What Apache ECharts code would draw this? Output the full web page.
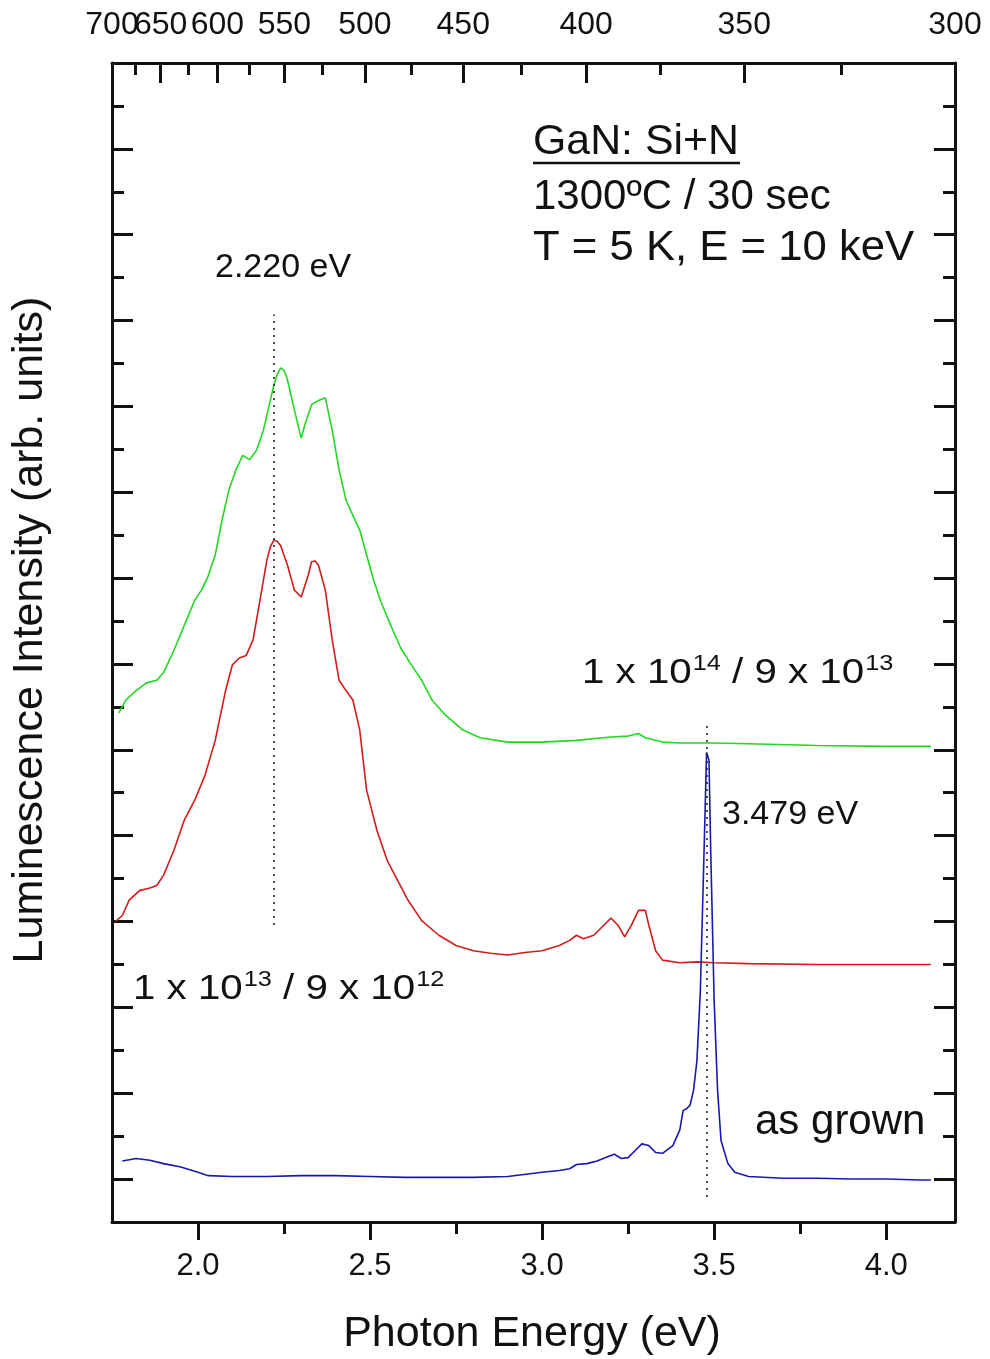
<!DOCTYPE html>
<html>
<head>
<meta charset="utf-8">
<script src="https://cdn.jsdelivr.net/npm/echarts@6/dist/echarts.min.js"></script>
<style>
  html, body { margin: 0; padding: 0; background: #fff; }
  #chart { width: 990px; height: 1359px; }
</style>
</head>
<body>
<div id="chart"></div>
<script>
// Cathodoluminescence spectra of GaN:Si+N after 1300 °C / 30 s anneal (T = 5 K, E = 10 keV)
const FONT = '"Liberation Sans", Arial, sans-serif';

// Tick positions
const energyMajor = [2.0, 2.5, 3.0, 3.5, 4.0];
const energyMinor = [2.25, 2.75, 3.25, 3.75];
const wavelengthMajorA = [700, 600, 500, 400, 300];
const wavelengthMajorB = [650, 550, 450, 350];
const wavelengthMinor = [675, 625, 575, 525, 475, 425, 375, 325];
const intensityMajor = [0, 1, 2, 3, 4, 5, 6, 7, 8, 9, 10, 11, 12, 13];
const intensityMinor = [0.5, 1.5, 2.5, 3.5, 4.5, 5.5, 6.5, 7.5, 8.5, 9.5, 10.5, 11.5, 12.5];

// As-grown sample (blue)
const asGrownEnergy = [1.78, 1.82, 1.86, 1.90, 1.95, 2.00, 2.03, 2.10, 2.20, 2.30, 2.40, 2.50, 2.60, 2.70, 2.80, 2.90,
  3.00, 3.05, 3.08, 3.10, 3.13, 3.16, 3.19, 3.21, 3.23, 3.25, 3.27, 3.29, 3.31, 3.33, 3.35, 3.38, 3.40, 3.41, 3.42,
  3.43, 3.44, 3.45, 3.46, 3.47, 3.478, 3.485, 3.49, 3.50, 3.51, 3.52, 3.54, 3.56, 3.60, 3.70, 3.80, 3.90, 4.00, 4.10, 4.13];
const asGrownIntensity = [0.21, 0.24, 0.22, 0.18, 0.14, 0.08, 0.04, 0.03, 0.03, 0.04, 0.04, 0.03, 0.02, 0.02, 0.02, 0.03,
  0.08, 0.10, 0.12, 0.17, 0.18, 0.21, 0.26, 0.29, 0.24, 0.25, 0.33, 0.41, 0.39, 0.31, 0.30, 0.39, 0.57, 0.80, 0.82,
  0.86, 1.03, 1.38, 2.20, 3.71, 4.97, 4.88, 3.83, 2.08, 1.03, 0.45, 0.18, 0.08, 0.03, 0.01, 0.01, 0.00, 0.00, -0.01, -0.01];

// 1 x 10^13 / 9 x 10^12 implant (red)
const lowDoseEnergy = [1.76, 1.78, 1.80, 1.83, 1.86, 1.88, 1.90, 1.93, 1.96, 1.99,
  2.02, 2.05, 2.08, 2.10, 2.12, 2.14, 2.16, 2.18, 2.20, 2.21, 2.22, 2.23,
  2.24, 2.26, 2.28, 2.30, 2.32, 2.33, 2.34, 2.35, 2.37, 2.39, 2.41,
  2.43, 2.45, 2.47, 2.49, 2.52, 2.55, 2.58, 2.61, 2.65, 2.70,
  2.75, 2.80, 2.85, 2.90, 2.95, 3.00, 3.05, 3.08, 3.10, 3.12,
  3.15, 3.18, 3.20, 3.22, 3.24, 3.26, 3.28, 3.30, 3.31, 3.33,
  3.35, 3.40, 3.45, 3.50, 3.60, 3.80, 4.00, 4.13];
const lowDoseIntensity = [3.00, 3.07, 3.25, 3.36, 3.39, 3.42, 3.54, 3.83, 4.18, 4.41,
  4.70, 5.11, 5.69, 5.99, 6.07, 6.10, 6.28, 6.74, 7.21, 7.36, 7.44, 7.43,
  7.38, 7.15, 6.86, 6.78, 7.03, 7.19, 7.20, 7.15, 6.86, 6.28, 5.81,
  5.69, 5.58, 5.23, 4.53, 4.06, 3.71, 3.48, 3.25, 3.01, 2.84,
  2.72, 2.66, 2.63, 2.61, 2.64, 2.66, 2.72, 2.78, 2.84, 2.80,
  2.84, 2.96, 3.04, 2.96, 2.82, 2.96, 3.13, 3.13, 2.96, 2.66,
  2.55, 2.52, 2.53, 2.52, 2.51, 2.50, 2.50, 2.50];

// 1 x 10^14 / 9 x 10^13 implant (green)
const highDoseEnergy = [1.77, 1.79, 1.82, 1.85, 1.88, 1.90, 1.93, 1.96, 1.99,
  2.01, 2.03, 2.05, 2.07, 2.09, 2.11, 2.13, 2.15, 2.17, 2.19,
  2.21, 2.22, 2.23, 2.24, 2.25, 2.26, 2.28, 2.30, 2.31, 2.33, 2.35, 2.37,
  2.39, 2.41, 2.43, 2.45, 2.47, 2.49, 2.51, 2.53, 2.56, 2.59,
  2.62, 2.65, 2.68, 2.72, 2.77, 2.82, 2.90, 3.00, 3.10, 3.20,
  3.25, 3.28, 3.30, 3.35, 3.40, 3.50, 3.60, 3.80, 4.00, 4.13];
const highDoseIntensity = [5.43, 5.58, 5.69, 5.78, 5.81, 5.90, 6.16, 6.45, 6.74,
  6.86, 7.03, 7.27, 7.68, 8.03, 8.26, 8.43, 8.38, 8.49, 8.72,
  9.07, 9.24, 9.37, 9.45, 9.42, 9.31, 8.96, 8.63, 8.78, 9.02, 9.07, 9.10,
  8.72, 8.26, 7.91, 7.73, 7.56, 7.27, 6.98, 6.74, 6.45, 6.18,
  5.99, 5.81, 5.58, 5.40, 5.23, 5.14, 5.09, 5.09, 5.11, 5.15,
  5.16, 5.19, 5.14, 5.09, 5.08, 5.08, 5.07, 5.05, 5.04, 5.04];

// Marked peak energies with the vertical extent of their dotted guide lines
const peakEnergies = [2.220, 3.479];
const peakLineFrom = [2.96, -0.21];
const peakLineTo = [10.07, 5.32];

const zip = (xs, ys) => xs.map((x, i) => [x, ys[i]]);
const toInvMicron = nm => 1000 / nm;

const AXIS_COLOR = '#111';
const lineW = 3;

function energyAxis(ticks, len, withLine, withLabels) {
  return {
    type: 'value', position: 'bottom', min: 1.75, max: 4.2,
    axisLine: { show: withLine, onZero: false, lineStyle: { color: AXIS_COLOR, width: lineW } },
    axisTick: { show: true, customValues: ticks, length: len, lineStyle: { color: AXIS_COLOR, width: lineW } },
    axisLabel: withLabels ? {
      show: true, customValues: ticks, formatter: v => v.toFixed(1),
      fontSize: 31, fontFamily: FONT, color: '#111', margin: 29, hideOverlap: false
    } : { show: false },
    splitLine: { show: false }
  };
}
// Top axis is linear in 1/λ (μm⁻¹) and labelled in nm
function wavelengthAxis(ticks, len, withLine, withLabels) {
  const vals = ticks.map(toInvMicron);
  return {
    type: 'value', position: 'top', min: toInvMicron(700), max: toInvMicron(300),
    axisLine: { show: withLine, onZero: false, lineStyle: { color: AXIS_COLOR, width: lineW } },
    axisTick: { show: true, inside: true, customValues: vals, length: len, lineStyle: { color: AXIS_COLOR, width: lineW } },
    axisLabel: withLabels ? {
      show: true, customValues: vals, formatter: v => String(Math.round(1000 / v)),
      fontSize: 32, fontFamily: FONT, color: '#111', margin: 22,
      hideOverlap: false, showMinLabel: true, showMaxLabel: true
    } : { show: false },
    splitLine: { show: false }
  };
}
function intensityAxis(side, ticks, len, withLine) {
  return {
    type: 'value', position: side, min: -0.5, max: 13,
    axisLine: { show: withLine, onZero: false, lineStyle: { color: AXIS_COLOR, width: lineW } },
    axisTick: { show: true, inside: true, customValues: ticks, length: len, lineStyle: { color: AXIS_COLOR, width: lineW } },
    axisLabel: { show: false },
    splitLine: { show: false }
  };
}

function curve(name, color, xs, ys, extra) {
  return Object.assign({
    name, type: 'line', xAxisIndex: 0, yAxisIndex: 0,
    data: zip(xs, ys), showSymbol: false, symbol: 'none', smooth: false,
    lineStyle: { color, width: 1.6 }, itemStyle: { color }, silent: true
  }, extra || {});
}

const chart = echarts.init(document.getElementById('chart'), null, { renderer: 'canvas' });

const guideLines = peakEnergies.map((e, i) => [
  { coord: [e, peakLineFrom[i]] }, { coord: [e, peakLineTo[i]] }
]);

const t = (text, x, y, size, extra, props) => Object.assign({
  type: 'text', x, y, silent: true,
  style: Object.assign({
    text, font: size + 'px ' + FONT, fill: '#111',
    textAlign: 'left', textVerticalAlign: 'middle'
  }, extra || {})
}, props || {});

const doseRich = {
  s: { fontSize: 22, fontFamily: FONT, fill: '#111', verticalAlign: 'top', lineHeight: 40, padding: [0, 0, 0, 1] },
  m: { fontSize: 35, fontFamily: FONT, fill: '#111', lineHeight: 40 }
};

chart.setOption({
  animation: false,
  backgroundColor: '#fff',
  grid: { left: 112, right: 35, top: 63, bottom: 137, containLabel: false },
  xAxis: [
    energyAxis(energyMajor, 18, true, true),
    wavelengthAxis(wavelengthMajorA, 20, true, true),
    wavelengthAxis(wavelengthMajorB, 20, false, true),
    energyAxis(energyMinor, 12, false, false),
    wavelengthAxis(wavelengthMinor, 12, false, false)
  ],
  yAxis: [
    intensityAxis('left', intensityMajor, 21, true),
    intensityAxis('right', intensityMajor, 21, true),
    intensityAxis('left', intensityMinor, 12, false),
    intensityAxis('right', intensityMinor, 12, false)
  ],
  series: [
    curve('1 x 10^14 / 9 x 10^13', '#22d822', highDoseEnergy, highDoseIntensity),
    curve('1 x 10^13 / 9 x 10^12', '#d21c1c', lowDoseEnergy, lowDoseIntensity),
    curve('as grown', '#1818b0', asGrownEnergy, asGrownIntensity, {
      markLine: {
        silent: true, symbol: ['none', 'none'], label: { show: false },
        lineStyle: { color: '#222', width: 1.6, type: [2, 5] },
        data: guideLines
      }
    })
  ],
  graphic: [
    t('GaN: Si+N', 533, 142, 42, null, { scaleX: 1.02 }),
    { type: 'line', silent: true, shape: { x1: 533, y1: 163, x2: 740, y2: 163 }, style: { stroke: '#111', lineWidth: 2.5 } },
    t('1300ºC / 30 sec', 533, 197, 42),
    t('T = 5 K, E = 10 keV', 533, 248, 42, null, { scaleX: 1.04 }),
    t('2.220 eV', 215, 268, 34),
    t('3.479 eV', 722, 815, 34),
    t('{m|1 x 10}{s|14}{m| / 9 x 10}{s|13}', 582, 673, 35, { rich: doseRich }, { scaleX: 1.15 }),
    t('{m|1 x 10}{s|13}{m| / 9 x 10}{s|12}', 133, 989, 35, { rich: doseRich }, { scaleX: 1.15 }),
    t('as grown', 755, 1122, 42),
    t('Photon Energy (eV)', 532, 1334, 43, { textAlign: 'center' }),
    {
      type: 'text', x: 30, y: 630, rotation: Math.PI / 2, silent: true,
      style: { text: 'Luminescence Intensity (arb. units)', font: '43px ' + FONT, fill: '#111', textAlign: 'center', textVerticalAlign: 'middle' }
    }
  ]
});
</script>
</body>
</html>
